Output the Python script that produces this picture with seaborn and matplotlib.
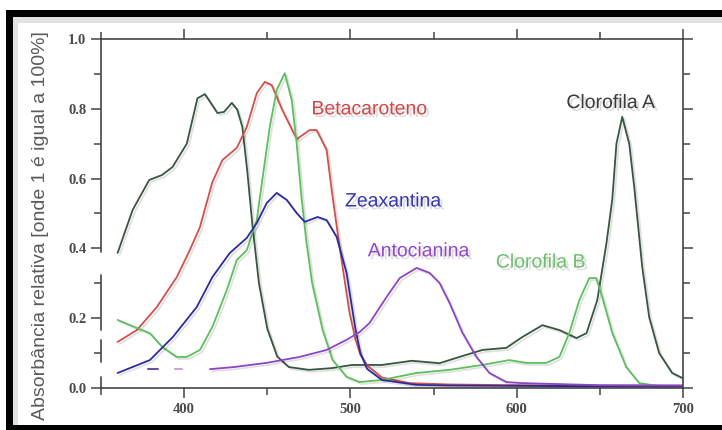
import numpy as np
import pandas as pd
import seaborn as sns
import matplotlib.pyplot as plt
import matplotlib.patheffects as pe
from matplotlib.patches import Rectangle
from matplotlib.ticker import MultipleLocator

sns.set_style('ticks')
plt.rcParams['font.family'] = ['Liberation Sans', 'DejaVu Sans']

# --- datos (nm, absorbancia relativa) ---
chla_x = [360, 369, 379, 386.6, 393, 401.6, 408, 412.5, 420, 424, 428.7, 432, 435, 438, 441, 445,
          450, 456, 463, 475, 489, 501, 519, 537, 553.6, 565.6, 579.4, 593.8, 603.4, 615.5, 625.7,
          636, 642, 648.5, 654, 657.5, 660, 663.5, 667.7, 670.7, 675.5, 679.7, 685.7, 693.5, 699.5]
chla_y = [0.387, 0.51, 0.596, 0.61, 0.633, 0.70, 0.83, 0.842, 0.788, 0.791, 0.817, 0.797, 0.748, 0.62,
          0.47, 0.30, 0.17, 0.09, 0.06, 0.052, 0.057, 0.066, 0.066, 0.078, 0.071, 0.089, 0.109, 0.115,
          0.146, 0.18, 0.166, 0.143, 0.157, 0.252, 0.415, 0.54, 0.70, 0.777, 0.70, 0.576, 0.347, 0.203,
          0.10, 0.043, 0.029]

beta_x = [360, 371.6, 383.6, 395.6, 403.4, 409.5, 417, 423, 431.7, 437.7, 443.7, 448.5, 452.7, 459,
          467.7, 475.5, 479.7, 485.7, 489, 493.5, 499.5, 503, 506, 510, 519, 535.6, 560, 600, 650, 700]
beta_y = [0.132, 0.166, 0.232, 0.318, 0.395, 0.461, 0.59, 0.653, 0.688, 0.748, 0.845, 0.877, 0.868,
          0.797, 0.713, 0.739, 0.739, 0.682, 0.558, 0.404, 0.215, 0.14, 0.095, 0.065, 0.03, 0.014,
          0.01, 0.008, 0.007, 0.007]

chlb_x = [360, 371.6, 379.4, 387, 395.6, 401.6, 409.5, 417, 425.7, 431.7, 437.7, 443.7, 447, 451.5,
          455.7, 460.5, 464.7, 467.7, 470.5, 473.5, 477, 483.3, 489.3, 497.7, 505.5, 519, 539.8, 559.6,
          579.4, 595.6, 605.8, 617.9, 625.7, 631.7, 637.7, 643.7, 647.9, 651.5, 657.5, 665.9, 673.7,
          685, 700]
chlb_y = [0.195, 0.172, 0.157, 0.117, 0.089, 0.089, 0.109, 0.175, 0.281, 0.367, 0.395, 0.481, 0.596,
          0.748, 0.854, 0.902, 0.825, 0.70, 0.55, 0.42, 0.30, 0.166, 0.08, 0.032, 0.017, 0.023, 0.043,
          0.052, 0.066, 0.08, 0.072, 0.072, 0.089, 0.158, 0.252, 0.315, 0.315, 0.26, 0.158, 0.06,
          0.014, 0.006, 0.005]

zea_x = [360, 379.4, 393.2, 407.6, 417, 427.5, 437.7, 443.7, 449.7, 455.7, 461.7, 467.7, 472.5, 480.3,
         485.7, 491.7, 497.7, 500, 503, 506, 510, 519, 539.8, 560, 600, 650, 700]
zea_y = [0.043, 0.08, 0.146, 0.232, 0.318, 0.387, 0.43, 0.473, 0.53, 0.559, 0.539, 0.501, 0.476, 0.49,
         0.481, 0.433, 0.33, 0.26, 0.17, 0.10, 0.055, 0.023, 0.009, 0.007, 0.006, 0.005, 0.005]

anto_x = [415.5, 430, 449.7, 469.5, 485.7, 497.7, 505.5, 511.5, 521.8, 529.7, 539.8, 547.6, 553.6,
          559.6, 567.4, 575.8, 583.6, 593.8, 603.4, 650, 700]
anto_y = [0.054, 0.060, 0.072, 0.089, 0.109, 0.138, 0.16, 0.186, 0.261, 0.315, 0.344, 0.33, 0.301,
          0.244, 0.158, 0.089, 0.043, 0.017, 0.014, 0.008, 0.007]
# trozos sueltos de la antocianina al principio
anto_dash_x = [[378, 384], [394.5, 399]]
anto_dash_y = [[0.054, 0.054], [0.054, 0.054]]

nombres = ['Clorofila A', 'Betacaroteno', 'Clorofila B', 'Zeaxantina', 'Antocianina']
colores = ['#35563f', '#d0504a', '#5cbf5c', '#2b2ba0', '#8d45c4']
col_texto = ['#3a3a3a', '#cc4848', '#6cbf6c', '#3535b0', '#9048c8']
etiqueta_x = [656.7, 511.6, 614.6, 525.9, 541.2]
etiqueta_y = [0.815, 0.797, 0.358, 0.533, 0.39]

series = [(chla_x, chla_y), (beta_x, beta_y), (chlb_x, chlb_y), (zea_x, zea_y), (anto_x, anto_y)]

fig = plt.figure(figsize=(7.22, 4.30), dpi=100)
ax = fig.add_axes([0.1399, 0.0977, 0.806, 0.8116])

sombra = [pe.SimpleLineShadow(offset=(1.5, -1.5), alpha=0.12, shadow_color='k'), pe.Normal()]

for (xs, ys), nombre, col in zip(series, nombres, colores):
    d = pd.DataFrame({'nm': xs, 'abs': ys})
    sns.lineplot(data=d, x='nm', y='abs', color=col, lw=1.3, ax=ax,
                 estimator=None, sort=False, path_effects=sombra)

for dx, dy, c in zip(anto_dash_x, anto_dash_y, ['#6a4fa8', '#c4a6dc']):
    sns.lineplot(x=dx, y=dy, color=c, lw=1.5, ax=ax, estimator=None)

for nombre, col, tx, ty in zip(nombres, col_texto, etiqueta_x, etiqueta_y):
    ax.text(tx, ty, nombre, color=col, fontsize=14, ha='center', va='center',
            path_effects=[pe.withSimplePatchShadow(offset=(2, -2), alpha=0.15)])

ax.set_xlim(350, 700)
ax.set_ylim(0, 1.0)
ax.xaxis.set_major_locator(MultipleLocator(100))
ax.xaxis.set_minor_locator(MultipleLocator(50))
ax.yaxis.set_major_locator(MultipleLocator(0.2))
ax.yaxis.set_minor_locator(MultipleLocator(0.1))
ax.set_xlabel('')
ax.set_ylabel('Absorbância relativa [onde 1 é igual a 100%]', fontsize=14, color='#5a5a5a')
ax.yaxis.set_label_coords(-0.089, 0.464)

eje = '#444444'
for s in ax.spines.values():
    s.set_color(eje)
    s.set_linewidth(1.2)
ax.spines['left'].set_visible(False)
# eje izquierdo cortado como en el escaneo
for a, b in [(0, 0.032), (0.075, 0.138), (0.166, 0.324), (0.39, 1.0)]:
    ax.plot([350, 350], [a, b], color=eje, lw=1.2, clip_on=False)

ax.tick_params(which='both', direction='out', top=True, right=True, labeltop=False,
               labelright=False, color=eje, width=1.1)
ax.tick_params(which='major', length=7)
ax.tick_params(which='minor', length=5)
for lab in ax.get_xticklabels() + ax.get_yticklabels():
    lab.set_fontfamily('Liberation Serif')
    lab.set_fontweight('bold')
    lab.set_fontsize(10.5)
    lab.set_color('#4a4a4a')

# marco negro de la captura, con algo de sombra gris por dentro
W, H = 722, 430
for (x0, y0, w, h, c) in [(13, 17, 709, 6, '#e2e2e2'), (13, 17, 5, 408, '#e2e2e2'),
                          (6, 10, 716, 7, 'black'), (6, 10, 7, 420, 'black'),
                          (6, 425, 716, 5, 'black')]:
    fig.add_artist(Rectangle((x0 / W, 1 - (y0 + h) / H), w / W, h / H,
                             transform=fig.transFigure, color=c, lw=0, zorder=10))

fig.savefig('out.png', dpi=100)
